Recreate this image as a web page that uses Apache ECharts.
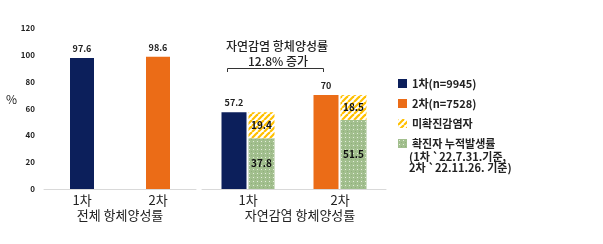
<!DOCTYPE html>
<html><head><meta charset="utf-8">
<script src="https://cdn.jsdelivr.net/npm/echarts@6/dist/echarts.min.js"></script>
<style>html,body{margin:0;padding:0;background:#fff}#c{width:603px;height:244px}</style>
</head><body><div id="c"></div>
<script>
const leftCats = ['1차', '2차'];
const rightCats = ['1차', '2차'];
const overall1 = [97.6, '-'];
const overall2 = ['-', 98.6];
const natural1 = [57.2, '-'];
const natural2 = ['-', 70];
const confirmed = [37.8, 51.5];
const unconfirmed = [19.4, 18.5];
const yTicks = [0, 20, 40, 60, 80, 100, 120];
const names = ['1차(n=9945)', '2차(n=7528)', '미확진감염자', '확진자 누적발생률'];

const FONT = '"Noto Sans CJK KR", "Noto Sans", sans-serif';
const NAVY = '#0C1F5B', ORANGE = '#EB6C17';

function stripe() {
  const c = document.createElement('canvas'); c.width = 6; c.height = 6;
  const g = c.getContext('2d');
  g.fillStyle = '#fff'; g.fillRect(0, 0, 6, 6);
  g.strokeStyle = '#FFC000'; g.lineWidth = 2.2;
  [[-6, 0], [0, 0], [6, 0]].forEach(([o]) => {
    g.beginPath(); g.moveTo(o, 6); g.lineTo(o + 6, 0); g.stroke();
  });
  return { image: c, repeat: 'repeat' };
}
function dots() {
  const c = document.createElement('canvas'); c.width = 4; c.height = 4;
  const g = c.getContext('2d');
  g.fillStyle = '#A2BF8E'; g.fillRect(0, 0, 4, 4);
  g.fillStyle = '#E4EEDB'; g.fillRect(1, 1, 1, 1);
  g.fillStyle = '#8FAF7B'; g.fillRect(3, 3, 1, 1);
  return { image: c, repeat: 'repeat' };
}
const STRIPE = stripe(), DOTS = dots();

const chart = echarts.init(document.getElementById('c'), null, { renderer: 'canvas' });
const topLabel = { show: true, position: 'top', distance: 5, fontSize: 9, fontWeight: 'bold', color: '#222', fontFamily: FONT };
const inLabel = { show: true, position: 'inside', fontSize: 10, fontWeight: 'bold', color: '#111', fontFamily: FONT };
const yBase = {
  type: 'value', min: 0, max: 120, interval: 20,
  axisLine: { show: false }, axisTick: { show: false }, splitLine: { show: false }
};
const xBase = {
  type: 'category',
  axisLine: { lineStyle: { color: '#D9D9D9', width: 1 } },
  axisTick: { show: false },
  axisLabel: { fontSize: 13, color: '#222', margin: 5, fontFamily: FONT }
};

chart.setOption({
  animation: false,
  textStyle: { fontFamily: FONT },
  grid: [
    { left: 44, width: 152, top: 28, bottom: 55 },
    { left: 202, width: 184, top: 28, bottom: 55 }
  ],
  xAxis: [
    Object.assign({ gridIndex: 0, data: leftCats }, xBase),
    Object.assign({ gridIndex: 1, data: rightCats }, xBase)
  ],
  yAxis: [
    Object.assign({ gridIndex: 0, axisLabel: { fontSize: 8, fontWeight: 'bold', color: '#222', margin: 9, fontFamily: FONT,
      formatter: v => yTicks.includes(v) ? String(v) : '' } }, yBase),
    Object.assign({ gridIndex: 1, axisLabel: { show: false } }, yBase)
  ],
  legend: {
    orient: 'vertical', left: 393, top: 73, itemWidth: 9, itemHeight: 9, itemGap: 9,
    icon: 'rect', selectedMode: false,
    textStyle: { fontSize: 11, fontWeight: 'bold', color: '#222', fontFamily: FONT, padding: [0, 0, 0, 0] },
    data: names
  },
  series: [
    { name: names[0], type: 'bar', xAxisIndex: 0, yAxisIndex: 0, data: overall1, barWidth: 24, barGap: '-100%',
      itemStyle: { color: NAVY }, label: topLabel },
    { name: names[1], type: 'bar', xAxisIndex: 0, yAxisIndex: 0, data: overall2, barWidth: 24, barGap: '-100%',
      itemStyle: { color: ORANGE }, label: topLabel },
    { name: names[0], type: 'bar', xAxisIndex: 1, yAxisIndex: 1, data: natural1, stack: 'a', barWidth: 25, barGap: '8%',
      itemStyle: { color: NAVY }, label: topLabel },
    { name: names[1], type: 'bar', xAxisIndex: 1, yAxisIndex: 1, data: natural2, stack: 'a', barWidth: 25, barGap: '8%',
      itemStyle: { color: ORANGE }, label: topLabel },
    { name: names[3], type: 'bar', xAxisIndex: 1, yAxisIndex: 1, data: confirmed, stack: 'b', barWidth: 26, barGap: '8%',
      itemStyle: { color: DOTS }, label: inLabel },
    { name: names[2], type: 'bar', xAxisIndex: 1, yAxisIndex: 1, data: unconfirmed, stack: 'b', barWidth: 26, barGap: '8%',
      itemStyle: { color: STRIPE }, label: inLabel }
  ],
  graphic: [
    { type: 'text', left: 6, top: 93, style: { text: '%', fontSize: 12, fill: '#222', fontFamily: FONT } },
    { type: 'text', x: 120, y: 215, style: { text: '전체 항체양성률', fontSize: 13, fill: '#222', fontFamily: FONT, align: 'center', verticalAlign: 'middle' } },
    { type: 'text', x: 300, y: 215, style: { text: '자연감염 항체양성률', fontSize: 13, fill: '#222', fontFamily: FONT, align: 'center', verticalAlign: 'middle' } },
    { type: 'text', x: 277, y: 46, style: { text: '자연감염 항체양성률', fontSize: 12, fontWeight: 500, fill: '#222', fontFamily: FONT, align: 'center', verticalAlign: 'middle' } },
    { type: 'text', x: 278, y: 61, style: { text: '12.8% 증가', fontSize: 12, fontWeight: 500, fill: '#222', fontFamily: FONT, align: 'center', verticalAlign: 'middle' } },
    { type: 'polyline', shape: { points: [[227.5, 72], [227.5, 68.5], [323.5, 68.5], [323.5, 72]] }, style: { stroke: '#333', lineWidth: 1, fill: null } },
    { type: 'text', x: 409, y: 151, style: { text: '(1차 `22.7.31.기준,\n2차 `22.11.26. 기준)', fontSize: 11, fontWeight: 'bold', lineHeight: 11.5, fill: '#222', fontFamily: FONT } }
  ]
});
</script></body></html>
